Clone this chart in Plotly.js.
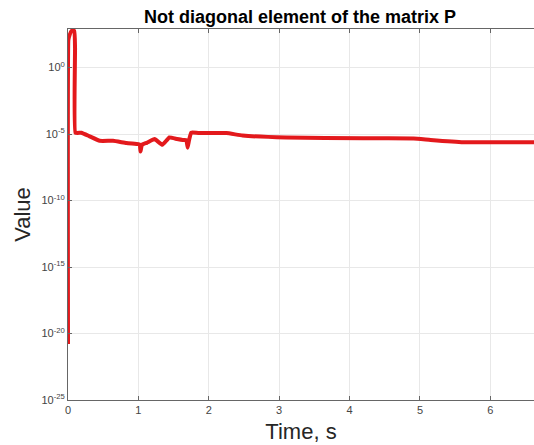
<!DOCTYPE html>
<html>
<head>
<meta charset="utf-8">
<script src="https://cdn.plot.ly/plotly-3.0.1.min.js"></script>
<style>html,body{margin:0;padding:0;background:#fff;}#chart{width:534px;height:445px;}</style>
</head>
<body>
<div id="chart"></div>
<script>
// Time (s)
const timeS = [0, 0.005, 0.02, 0.05, 0.09, 0.1, 0.105, 0.19, 0.3, 0.45, 0.64, 0.83, 1.0, 1.02, 1.03, 1.05, 1.12, 1.23, 1.34, 1.44, 1.55, 1.63, 1.68, 1.70, 1.72, 1.75, 1.85, 2.25, 2.48, 3.1, 4.2, 4.91, 5.15, 5.62, 6.62];
// Value (log-scale quantity)
const valueP = [1.6e-21, 1.2e2, 2.5e2, 5.7e2, 5.7e2, 3e1, 1.25e-5, 1.25e-5, 7e-6, 3.1e-6, 3.1e-6, 2.1e-6, 1.75e-6, 1.6e-6, 4.8e-7, 1.6e-6, 2.2e-6, 4.2e-6, 1.55e-6, 5.5e-6, 4.2e-6, 3.6e-6, 3.6e-6, 9.5e-7, 3.6e-6, 1.29e-5, 1.2e-5, 1.18e-5, 7.8e-6, 5.5e-6, 4.9e-6, 4.6e-6, 3.6e-6, 2.45e-6, 2.45e-6];
// Tick labels
const yTickVals = [1e-25, 1e-20, 1e-15, 1e-10, 1e-5, 1e0];
const yTickText = ['10<sup>-25</sup>', '10<sup>-20</sup>', '10<sup>-15</sup>', '10<sup>-10</sup>', '10<sup>-5</sup>', '10<sup>0</sup>'];
const xTickVals = [0, 1, 2, 3, 4, 5, 6];

Plotly.newPlot('chart', [{
  x: timeS, y: valueP, type: 'scatter', mode: 'lines',
  line: {color: '#e3191c', width: 4, shape: 'spline', smoothing: 0.3}
}], {
  width: 534, height: 445,
  margin: {l: 68, r: 0, t: 29, b: 45},
  paper_bgcolor: '#fff', plot_bgcolor: '#fff',
  showlegend: false,
  title: {text: '<b>Not diagonal element of the matrix P</b>', x: 0.562, xanchor: 'center', y: 0.962, yanchor: 'middle',
          font: {family: 'Liberation Sans, Arial, sans-serif', size: 18, color: '#000'}},
  xaxis: {
    range: [0, 6.62], tickvals: xTickVals, ticks: 'inside', ticklen: 4, tickcolor: '#666',
    showline: true, linecolor: '#666', linewidth: 1, mirror: 'ticks',
    showgrid: true, gridcolor: '#e8e8e8', zeroline: false,
    tickfont: {family: 'Liberation Sans, Arial, sans-serif', size: 11, color: '#444'},
    title: {text: 'Time, s', standoff: 8, font: {family: 'Liberation Sans, Arial, sans-serif', size: 22, color: '#262626'}}
  },
  yaxis: {
    type: 'log', range: [-25, 2.9], tickvals: yTickVals, ticktext: yTickText,
    ticks: 'inside', ticklen: 4, tickcolor: '#666',
    showline: true, linecolor: '#666', linewidth: 1, mirror: false,
    showgrid: true, gridcolor: '#e8e8e8', zeroline: false,
    tickfont: {family: 'Liberation Sans, Arial, sans-serif', size: 11, color: '#444'},
    title: {text: 'Value', standoff: 4, font: {family: 'Liberation Sans, Arial, sans-serif', size: 22, color: '#262626'}}
  }
}, {displayModeBar: false, staticPlot: true});
</script>
</body>
</html>
